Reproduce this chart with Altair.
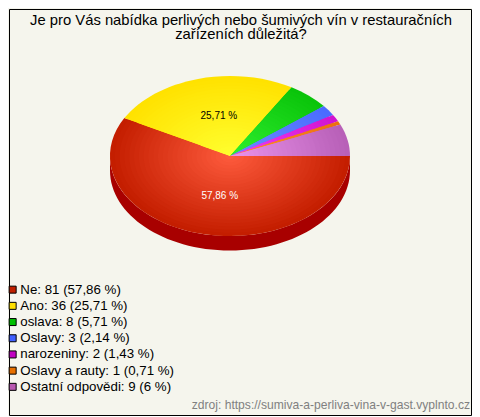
import altair as alt
import pandas as pd

labels = ["Ne", "Ano", "oslava", "Oslavy", "narozeniny", "Oslavy a rauty", "Ostatní odpovědi"]
counts = [81, 36, 8, 3, 2, 1, 9]
legend_texts = ["Ne: 81 (57,86 %)", "Ano: 36 (25,71 %)", "oslava: 8 (5,71 %)", "Oslavy: 3 (2,14 %)",
                "narozeniny: 2 (1,43 %)", "Oslavy a rauty: 1 (0,71 %)", "Ostatní odpovědi: 9 (6 %)"]
pct_texts = ["57,86 %", "25,71 %", "", "", "", "", ""]
legend_colors = ["#c02000", "#ffe000", "#00c000", "#4060ff", "#c000c0", "#e87000", "#b858b0"]
edge_rgb = [(196, 30, 0), (255, 226, 0), (10, 196, 10), (74, 108, 255), (208, 20, 208), (236, 112, 16), (184, 96, 184)]
center_rgb = [(255, 92, 62), (255, 255, 48), (48, 240, 48), (108, 140, 255), (244, 64, 244), (255, 148, 40), (236, 148, 236)]
levels = [1.0, .96, .92, .88, .84, .80, .76, .72, .68, .64, .60, .56, .52, .48, .44, .40, .36, .32, .28, .24, .20, .16, .12, .08, .04]

TITLE = ["Je pro Vás nabídka perlivých nebo šumivých vín v restauračních", "zařízeních důležitá?"]
SOURCE = "zdroj: https://sumiva-a-perliva-vina-v-gast.vyplnto.cz"
BG = "#f5f5ed"
FONT = "Liberation Sans"
CX, CY = 221, 147          # pie centre inside the plot area (page minus margin and padding)
RX = 120
RATIO = 0.6667
DEPTH = 14.5 / RX

df = pd.DataFrame({
    "i": range(len(labels)), "label": labels, "value": counts, "legend": legend_texts, "pct": pct_texts,
    "er": [c[0] for c in edge_rgb], "eg": [c[1] for c in edge_rgb], "eb": [c[2] for c in edge_rgb],
    "cr": [c[0] for c in center_rgb], "cg": [c[1] for c in center_rgb], "cb": [c[2] for c in center_rgb],
})

base = (
    alt.Chart(df)
    .transform_joinaggregate(total="sum(value)")
    .transform_window(cum="sum(value)", sort=[alt.SortField("i")])
    .transform_calculate(
        a0="2*PI*(datum.cum-datum.value)/datum.total",
        a1="2*PI*datum.cum/datum.total",
    )
)

path = (
    f"'M0,0L'+cos(datum.a0)+','+({RATIO}*sin(datum.a0))"
    f"+'A1,{RATIO},0,'+(datum.a1-datum.a0>PI?1:0)+',1,'+cos(datum.a1)+','+({RATIO}*sin(datum.a1))+'Z'"
)

rings = (
    base.transform_calculate(path=path, levels=repr(levels))
    .transform_flatten(["levels"], as_=["r"])
    .transform_calculate(
        sz=f"pow(2*{RX}*datum.r,2)",
        fillc="rgb(round(datum.cr+(datum.er-datum.cr)*datum.r),round(datum.cg+(datum.eg-datum.cg)*datum.r),round(datum.cb+(datum.eb-datum.cb)*datum.r))+''",
    )
    .mark_point(filled=True, opacity=1, strokeWidth=0)
    .encode(
        x=alt.value(CX), y=alt.value(CY),
        shape=alt.Shape("path:N", scale=None),
        size=alt.Size("sz:Q", scale=None),
        fill=alt.Fill("fillc:N", scale=None),
        order=alt.Order("r:Q", sort="descending"),
    )
)

rim_path = f"M-1,0L-1,{DEPTH}A1,{RATIO},0,0,0,1,{DEPTH}L1,0A1,{RATIO},0,0,1,-1,0Z"
rim = (
    alt.Chart(df).transform_filter("datum.i==0")
    .mark_point(filled=True, opacity=1, strokeWidth=0, fill="#a80000", shape=rim_path, size=(2 * RX) ** 2)
    .encode(x=alt.value(CX), y=alt.value(CY))
)

pct = (
    base.transform_filter("datum.pct!=''")
    .transform_calculate(
        mid="(datum.a0+datum.a1)/2",
        lx=f"{CX}+42*cos(datum.mid)",
        ly=f"{CY}+41*sin(datum.mid)",
        tc="datum.i==0?'#ffffff':'#000000'",
    )
    .mark_text(font=FONT, fontSize=10, baseline="middle", align="center")
    .encode(
        x=alt.X("lx:Q", scale=None), y=alt.Y("ly:Q", scale=None),
        text="pct:N", color=alt.Color("tc:N", scale=None),
    )
)

legend_layer = (
    alt.Chart(df)
    .mark_square(size=0, opacity=1)
    .encode(
        x=alt.value(0), y=alt.value(0),
        color=alt.Color(
            "legend:N",
            scale=alt.Scale(domain=legend_texts, range=legend_colors),
            legend=alt.Legend(
                title=None, orient="none", legendX=-3, legendY=274, symbolType="square", symbolSize=49,
                symbolStrokeColor="#000000", symbolStrokeWidth=1, symbolOpacity=1,
                labelFont=FONT, labelFontSize=13.3, labelColor="#000000", labelLimit=300,
                rowPadding=2.2, labelOffset=1, columnPadding=0, padding=0,
            ),
        ),
    )
)

source = (
    alt.Chart(df).transform_filter("datum.i==0")
    .mark_text(font=FONT, fontSize=12.1, color="#808080", align="right", baseline="middle", text=SOURCE)
    .encode(x=alt.value(461), y=alt.value(396))
)

chart = (
    alt.layer(rim, rings, pct, legend_layer, source)
    .properties(
        width=462, height=406, background=BG, padding=1,
        autosize=alt.AutoSizeParams(type="none"),
        title=alt.TitleParams(text=TITLE, font=FONT, fontSize=14.8, fontWeight="normal", color="#000000",
                              anchor="middle", dx=1, dy=37, baseline="top", lineHeight=14.5),
    )
    .configure_view(stroke="#000000", strokeWidth=1)
)

chart.save("out.html", embed_options={"renderer": "svg", "actions": False})
